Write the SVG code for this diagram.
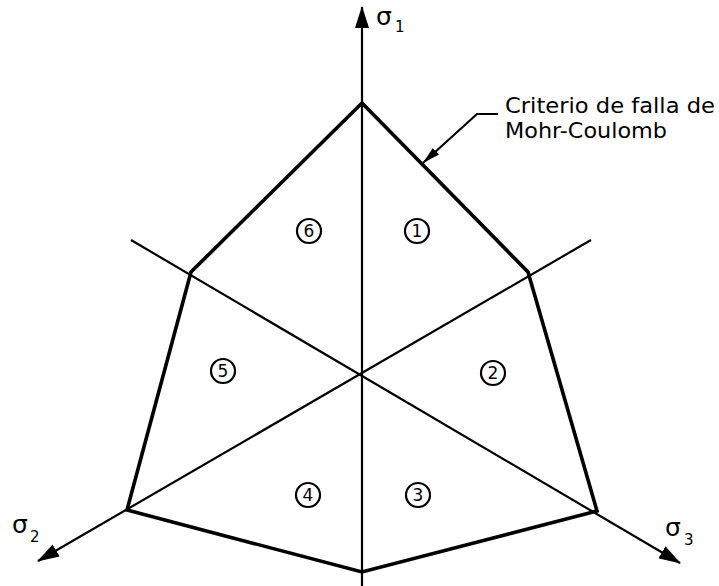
<svg xmlns="http://www.w3.org/2000/svg" width="719" height="586" viewBox="0 0 719 586">
<style>
.axis{stroke:#000;stroke-width:2.2;fill:none}
.hex{stroke:#000;stroke-width:3.6;fill:none;stroke-linejoin:miter}
.lbl{font-family:"DejaVu Sans","Liberation Sans",sans-serif;fill:#000}
.num circle{fill:#fff;stroke:#000;stroke-width:2.2}
.num text{font-family:"DejaVu Sans","Liberation Sans",sans-serif;font-size:17px;fill:#000;text-anchor:middle}
</style>
<defs>
<marker id="ah" markerUnits="userSpaceOnUse" markerWidth="22" markerHeight="14" viewBox="0 0 22 14" refX="21" refY="7" orient="auto">
<path d="M0,0 L22,7 L0,14 z" fill="#000"/>
</marker>
<marker id="ahs" markerUnits="userSpaceOnUse" markerWidth="18" markerHeight="9" viewBox="0 0 18 9" refX="17.5" refY="4.5" orient="auto">
<path d="M0,0 L18,4.5 L0,9 z" fill="#000"/>
</marker>
</defs>
<g id="connectors">
<line class="axis" x1="362" y1="586" x2="362" y2="7" marker-end="url(#ah)"/>
<line class="axis" x1="131" y1="240" x2="680" y2="563" marker-end="url(#ah)"/>
<line class="axis" x1="591" y1="240" x2="38" y2="561" marker-end="url(#ah)"/>
<polyline class="axis" points="498,114 477,114 423,163" marker-end="url(#ahs)"/>
</g>
<g id="criterion">
<polygon class="hex" points="362,103 528,272 597,511 362,572 127,510 191,272"/>
</g>
<g id="axis-labels">
<text class="lbl" x="376" y="25" font-size="25">σ<tspan font-size="15" x="395" y="32">1</tspan></text>
<text class="lbl" x="12" y="533" font-size="25">σ<tspan font-size="15" x="30" y="542">2</tspan></text>
<text class="lbl" x="665" y="536" font-size="25">σ<tspan font-size="15" x="684" y="545">3</tspan></text>
</g>
<g id="callout">
<text class="lbl" x="505" y="113" font-size="22" textLength="210" lengthAdjust="spacingAndGlyphs">Criterio de falla de</text>
<text class="lbl" x="505" y="138" font-size="22" textLength="162" lengthAdjust="spacingAndGlyphs">Mohr-Coulomb</text>
</g>
<g id="region-1" class="num"><circle cx="417" cy="231" r="12"/><text x="417" y="237">1</text></g>
<g id="region-2" class="num"><circle cx="493" cy="373" r="12"/><text x="493" y="379">2</text></g>
<g id="region-3" class="num"><circle cx="418" cy="495" r="12"/><text x="418" y="501">3</text></g>
<g id="region-4" class="num"><circle cx="308" cy="495" r="12"/><text x="308" y="501">4</text></g>
<g id="region-5" class="num"><circle cx="223" cy="371" r="12"/><text x="223" y="377">5</text></g>
<g id="region-6" class="num"><circle cx="309" cy="231" r="12"/><text x="309" y="237">6</text></g>
</svg>
